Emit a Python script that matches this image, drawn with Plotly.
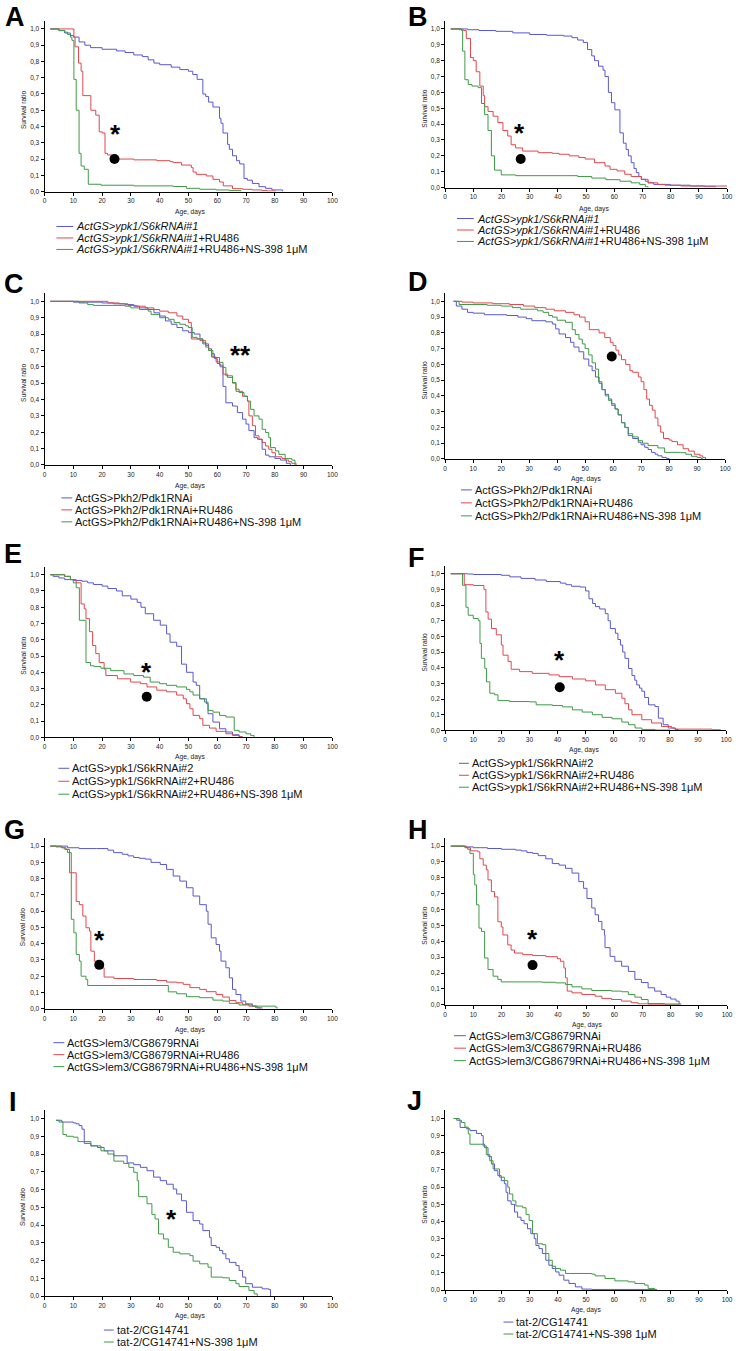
import plotly.graph_objects as go

W, H = 739, 1351

BLUE = "#5858d2"
RED = "#e2474e"
GREEN = "#3f9a47"
FONT = "Liberation Sans, Arial, sans-serif"

# ---- survival curves: age (days) and survival ratio ----
A_CTRL_DAYS = [2, 5, 7, 9, 10, 12, 14, 16, 20, 25, 28, 31, 34, 36, 38, 40, 44, 47, 50, 51.5, 53, 55, 56, 57, 58.5,
               60.8, 61.3, 62, 63.6, 64.2, 65.3, 66.7, 67.8, 69.3, 70.5, 72.2, 74.5, 76.8, 79, 82.7]
A_CTRL_SURV = [1.0, 0.99, 0.975, 0.96, 0.95, 0.92, 0.9, 0.885, 0.875, 0.865, 0.855, 0.84, 0.83, 0.81, 0.79, 0.78,
               0.765, 0.75, 0.74, 0.72, 0.69, 0.6, 0.585, 0.55, 0.52, 0.45, 0.42, 0.36, 0.29, 0.26, 0.22, 0.19,
               0.17, 0.08, 0.07, 0.05, 0.03, 0.02, 0.01, 0.0]
A_RU_DAYS = [2, 10.2, 10.6, 11.8, 12.7, 13.3, 16.1, 17.8, 19, 20.1, 21, 21.9, 23.6, 25.3, 31, 39, 43.6, 44.7, 47.6,
             51, 51.6, 52.7, 56.2, 58.5, 60.8, 62.1, 65.3, 68.8, 72.2, 75.6, 77.3, 80.2]
A_RU_SURV = [1.0, 0.95, 0.89, 0.79, 0.74, 0.59, 0.5, 0.47, 0.367, 0.36, 0.235, 0.225, 0.21, 0.2, 0.195, 0.19, 0.184,
             0.178, 0.163, 0.147, 0.12, 0.106, 0.096, 0.075, 0.059, 0.035, 0.018, 0.014, 0.01, 0.006, 0.004, 0.0]
A_NS_DAYS = [2, 5, 7, 8, 9, 9.5, 10.2, 11, 12, 12.7, 13.8, 15.2, 19.6, 31, 44.7, 49.3, 53.9, 59.6, 64.2, 68.2]
A_NS_SURV = [1.0, 0.99, 0.98, 0.965, 0.95, 0.93, 0.69, 0.5, 0.235, 0.157, 0.137, 0.045, 0.039, 0.035, 0.031, 0.02,
             0.014, 0.01, 0.006, 0.0]

B_CTRL_DAYS = [2, 8, 12, 18, 24, 30, 36, 42, 45, 47, 49, 50.5, 52, 53, 54.4, 56, 56.7, 57.9, 59, 60.2, 62, 63.2,
               64.2, 65, 66, 67, 67.8, 68.7, 69.6, 71, 72, 74, 80, 87, 92, 96]
B_CTRL_SURV = [1.0, 0.995, 0.99, 0.985, 0.975, 0.965, 0.96, 0.955, 0.945, 0.93, 0.915, 0.87, 0.83, 0.8, 0.765, 0.74,
               0.7, 0.6, 0.535, 0.49, 0.345, 0.28, 0.24, 0.2, 0.157, 0.12, 0.094, 0.07, 0.052, 0.04, 0.03, 0.02,
               0.015, 0.01, 0.005, 0.0]
B_RU_DAYS = [2, 5, 6.5, 7.5, 9, 10, 11, 12.3, 13.5, 14, 15.2, 17, 18.7, 20.5, 22.2, 23.4, 25, 27.5, 33, 38, 40.4, 44,
             47.4, 49.7, 53, 56.7, 58.5, 61, 63.7, 66, 69.6, 72, 75.4, 78, 83.6, 100]
B_RU_SURV = [1.0, 0.995, 0.99, 0.94, 0.82, 0.8, 0.73, 0.64, 0.58, 0.51, 0.48, 0.45, 0.41, 0.36, 0.325, 0.27, 0.25,
             0.23, 0.22, 0.216, 0.21, 0.2, 0.19, 0.18, 0.157, 0.136, 0.115, 0.105, 0.084, 0.07, 0.052, 0.03, 0.02,
             0.015, 0.01, 0.01]
B_NS_DAYS = [2, 5.8, 6.2, 7, 8.2, 9.5, 11.7, 12.9, 14, 15.2, 16.4, 17.5, 19.9, 25, 41.5, 47, 52, 57, 62, 66, 69, 71, 72]
B_NS_SURV = [1.0, 0.99, 0.86, 0.68, 0.65, 0.64, 0.63, 0.53, 0.46, 0.36, 0.2, 0.11, 0.08, 0.075, 0.075, 0.07, 0.06,
             0.05, 0.04, 0.03, 0.02, 0.005, 0.0]

C_CTRL_DAYS = [2, 10, 20, 24, 28, 31, 33, 36, 38, 40, 42, 44, 46, 48, 50, 52, 54, 55, 57, 58, 59, 60, 61, 62, 63,
               65.3, 67, 68.8, 70, 71, 72.8, 74, 75.6, 76.8, 78, 80, 82, 84, 85.4]
C_CTRL_SURV = [1.0, 0.995, 0.99, 0.985, 0.98, 0.97, 0.96, 0.95, 0.93, 0.91, 0.88, 0.86, 0.84, 0.82, 0.81, 0.8, 0.77,
               0.74, 0.71, 0.68, 0.65, 0.62, 0.6, 0.48, 0.38, 0.36, 0.32, 0.28, 0.25, 0.21, 0.167, 0.157, 0.096,
               0.06, 0.05, 0.04, 0.03, 0.01, 0.0]
C_RU_DAYS = [2, 22, 26, 29, 32, 35, 38, 40, 43, 46, 48, 50, 51, 54, 56, 57, 58, 59.6, 60.8, 62, 63.6, 65.3, 66.5,
             68.8, 70.5, 71, 72.2, 73.3, 74.5, 75.6, 76.8, 77.9, 79, 80.2, 82.5, 83.6, 84.8, 85.9, 87.4]
C_RU_SURV = [1.0, 0.99, 0.985, 0.975, 0.97, 0.96, 0.95, 0.94, 0.93, 0.91, 0.89, 0.87, 0.77, 0.76, 0.73, 0.7, 0.66,
             0.63, 0.61, 0.555, 0.535, 0.5, 0.45, 0.42, 0.39, 0.3, 0.24, 0.178, 0.157, 0.137, 0.116, 0.096, 0.075,
             0.05, 0.039, 0.03, 0.02, 0.01, 0.0]
C_NS_DAYS = [2, 12, 15, 17, 28, 30, 33, 36, 37, 40, 43, 45, 47, 49, 50, 51.3, 53, 55, 56, 57, 58.5, 60.8, 62, 63,
             65.3, 66.5, 67.6, 69.3, 70.5, 71.6, 72.8, 74.5, 75.6, 76.8, 77.9, 78.5, 80.2, 81.4, 83.6, 85.9, 87]
C_NS_SURV = [1.0, 0.99, 0.98, 0.975, 0.97, 0.96, 0.95, 0.94, 0.92, 0.9, 0.89, 0.87, 0.86, 0.85, 0.84, 0.78, 0.77,
             0.75, 0.72, 0.7, 0.657, 0.627, 0.596, 0.545, 0.504, 0.463, 0.443, 0.42, 0.39, 0.34, 0.3, 0.28, 0.218,
             0.198, 0.167, 0.106, 0.086, 0.065, 0.039, 0.03, 0.0]

D_CTRL_DAYS = [3, 4, 6, 8, 10, 14, 22, 26, 29, 31, 36, 38.3, 39.5, 40.7, 43, 44.8, 46, 47.8, 49.5, 51.3, 52.5, 53.7,
               55, 56, 57.2, 58.4, 59.5, 60.7, 61.8, 63, 64.2, 65.4, 67, 69, 70, 71.3, 72.5, 73.7, 75, 76, 77.5,
               79, 80]
D_CTRL_SURV = [1.0, 0.97, 0.95, 0.93, 0.925, 0.915, 0.91, 0.9, 0.89, 0.877, 0.87, 0.856, 0.825, 0.793, 0.77, 0.74,
               0.71, 0.68, 0.634, 0.59, 0.56, 0.52, 0.48, 0.44, 0.41, 0.38, 0.35, 0.317, 0.28, 0.23, 0.2, 0.148,
               0.13, 0.106, 0.09, 0.074, 0.06, 0.042, 0.03, 0.02, 0.01, 0.004, 0.0]
D_RU_DAYS = [3, 6, 10, 17, 23, 28, 32, 36, 39, 43, 46, 48, 50, 51.5, 55, 57, 59, 60, 61, 62, 63, 64.5, 66, 67, 69,
             70, 71, 72, 73, 74, 75, 76, 77, 78, 80, 81, 83, 85, 87, 89, 91, 92, 93]
D_RU_SURV = [1.0, 0.995, 0.99, 0.985, 0.98, 0.97, 0.96, 0.95, 0.94, 0.93, 0.915, 0.9, 0.87, 0.82, 0.8, 0.77, 0.74,
             0.72, 0.69, 0.66, 0.63, 0.6, 0.56, 0.55, 0.52, 0.49, 0.44, 0.38, 0.34, 0.31, 0.26, 0.21, 0.17, 0.13,
             0.12, 0.11, 0.09, 0.065, 0.05, 0.03, 0.02, 0.01, 0.0]
D_NS_DAYS = [3, 5, 15, 20, 24, 27, 33, 35, 37, 38.3, 40, 43, 45.4, 46.5, 47.8, 49, 50, 51.3, 52.5, 53.7, 54.8, 56,
             57.2, 58.4, 59.5, 60.7, 61.8, 63, 64.2, 65.4, 67, 69, 70.5, 72.5, 76, 78.4, 84, 86, 88, 90, 91.4, 92]
D_NS_SURV = [1.0, 0.98, 0.975, 0.97, 0.96, 0.95, 0.94, 0.93, 0.91, 0.9, 0.88, 0.867, 0.82, 0.79, 0.76, 0.73, 0.7,
             0.66, 0.61, 0.57, 0.49, 0.44, 0.4, 0.37, 0.34, 0.317, 0.28, 0.23, 0.2, 0.16, 0.14, 0.116, 0.1, 0.085,
             0.07, 0.042, 0.04, 0.03, 0.017, 0.01, 0.004, 0.0]

E_CTRL_DAYS = [2, 3, 5, 7, 10, 13, 15, 17, 20, 22, 25, 27, 30, 32.2, 33.5, 35, 37.9, 40.2, 42.4, 43.6, 45.9, 47.6,
               49.3, 51.6, 52.7, 53.9, 56.2, 56.8, 58.5, 60.8, 63, 65.3, 67.6, 68.5]
E_CTRL_SURV = [1.0, 0.99, 0.98, 0.97, 0.965, 0.96, 0.95, 0.94, 0.93, 0.915, 0.9, 0.87, 0.85, 0.83, 0.8, 0.76, 0.72,
               0.69, 0.636, 0.585, 0.56, 0.45, 0.4, 0.34, 0.32, 0.237, 0.207, 0.145, 0.094, 0.053, 0.033, 0.016,
               0.004, 0.0]
E_RU_DAYS = [2, 7, 9, 11, 12.7, 13.8, 14.4, 15.6, 16.7, 17.8, 19, 20.7, 21.3, 25.3, 29.9, 33.3, 35.6, 39, 42.4, 45.9,
             48.2, 49.3, 50.5, 51.6, 53.9, 55, 57.3, 59.6, 63, 65.3, 67.6, 68.8]
E_RU_SURV = [1.0, 0.99, 0.97, 0.95, 0.82, 0.79, 0.73, 0.65, 0.565, 0.515, 0.46, 0.42, 0.38, 0.36, 0.34, 0.33, 0.31,
             0.29, 0.28, 0.26, 0.237, 0.207, 0.176, 0.135, 0.115, 0.074, 0.057, 0.037, 0.022, 0.012, 0.004, 0.0]
E_NS_DAYS = [2, 7, 9, 10, 11, 12.1, 14.4, 16, 17.3, 19.6, 23, 27.6, 31, 34.4, 36.7, 40, 42.4, 45.9, 49.3, 50.5, 51.6,
             53.9, 55.6, 56.8, 58.5, 60.8, 63, 65.9, 67.6, 70, 71.6, 72.8]
E_NS_SURV = [1.0, 0.99, 0.97, 0.95, 0.92, 0.72, 0.46, 0.44, 0.435, 0.425, 0.41, 0.39, 0.38, 0.37, 0.34, 0.33, 0.32,
             0.31, 0.295, 0.28, 0.26, 0.237, 0.217, 0.166, 0.155, 0.135, 0.125, 0.043, 0.033, 0.022, 0.012, 0.0]

F_CTRL_DAYS = [2, 8, 10, 20, 23, 27, 32, 36, 41, 43, 45, 48, 50, 51.2, 52.5, 53.5, 55, 57, 58, 58.8, 60.6, 61.5,
               62.4, 63.2, 64, 65.3, 66.5, 67.5, 68.2, 69.2, 70, 71, 72.4, 74.7, 75.9, 77.6, 79.4, 81.8, 83]
F_CTRL_SURV = [1.0, 0.998, 0.995, 0.99, 0.98, 0.97, 0.96, 0.95, 0.94, 0.93, 0.92, 0.915, 0.89, 0.84, 0.81, 0.79,
               0.775, 0.745, 0.7, 0.65, 0.62, 0.58, 0.545, 0.5, 0.46, 0.395, 0.35, 0.32, 0.29, 0.27, 0.25, 0.21,
               0.163, 0.152, 0.078, 0.036, 0.015, 0.006, 0.0]
F_RU_DAYS = [2, 6.8, 10, 13.8, 14.5, 15.3, 16.5, 18.2, 20, 20.6, 22.4, 23.5, 26.5, 31, 37, 40.6, 45.3, 50, 53.5, 57,
             60.6, 62.9, 64, 65.3, 66.5, 70, 73.5, 77, 80.6, 82, 93.5, 95, 98]
F_RU_SURV = [1.0, 0.93, 0.925, 0.9, 0.756, 0.71, 0.65, 0.61, 0.545, 0.48, 0.44, 0.39, 0.375, 0.364, 0.354, 0.343,
             0.328, 0.316, 0.29, 0.26, 0.237, 0.205, 0.17, 0.131, 0.1, 0.068, 0.047, 0.025, 0.015, 0.008, 0.008,
             0.004, 0.0]
F_NS_DAYS = [2, 6.2, 7.4, 8.2, 10, 11.8, 12.4, 12.9, 14.1, 14.7, 15.9, 17.6, 18.8, 22.9, 30, 32.4, 38.2, 41.8, 45.3,
             48.8, 52.4, 55.9, 59.4, 62.9, 65.3, 67.6, 70, 74.7, 80]
F_NS_SURV = [1.0, 0.926, 0.786, 0.735, 0.714, 0.7, 0.555, 0.46, 0.396, 0.31, 0.237, 0.227, 0.19, 0.184, 0.182,
             0.163, 0.159, 0.15, 0.131, 0.117, 0.1, 0.083, 0.074, 0.053, 0.036, 0.015, 0.006, 0.002, 0.0]

G_CTRL_DAYS = [2, 8, 12, 18, 22, 24, 27, 29, 31, 33, 35, 37, 40.2, 42.4, 44.7, 47, 49.3, 51.6, 53.9, 56.2, 56.8,
               57.9, 59.6, 60.8, 61.3, 63, 64.2, 65.3, 66.5, 68.2, 69.9, 72.2, 73.9, 75]
G_CTRL_SURV = [1.0, 0.99, 0.985, 0.985, 0.975, 0.96, 0.95, 0.94, 0.93, 0.925, 0.92, 0.9, 0.887, 0.857, 0.816,
               0.785, 0.744, 0.693, 0.64, 0.6, 0.52, 0.436, 0.395, 0.354, 0.293, 0.252, 0.19, 0.119, 0.088, 0.047,
               0.03, 0.016, 0.004, 0.0]
G_RU_DAYS = [2, 6, 7.5, 8.7, 11, 12.1, 13.3, 14.4, 15.6, 16.1, 17.3, 18.4, 19.6, 20.7, 24.1, 31, 39, 42.4, 45.9,
             48.2, 50.5, 53.9, 56.2, 59.6, 61.9, 64.2, 66.5, 68.8, 71, 73.3, 75.6]
G_RU_SURV = [1.0, 0.99, 0.98, 0.836, 0.66, 0.64, 0.57, 0.498, 0.477, 0.354, 0.293, 0.262, 0.252, 0.195, 0.186, 0.18,
             0.174, 0.164, 0.16, 0.15, 0.13, 0.119, 0.105, 0.088, 0.072, 0.051, 0.037, 0.027, 0.016, 0.006, 0.0]
G_NS_DAYS = [2, 4, 6, 7, 8, 9.3, 10.2, 11, 12.1, 12.7, 14.4, 15, 43, 45.9, 49.3, 53.9, 58.5, 61.9, 64.2, 67.6, 72.2,
             80.2, 80.8]
G_NS_SURV = [1.0, 0.995, 0.99, 0.98, 0.96, 0.55, 0.467, 0.334, 0.293, 0.2, 0.18, 0.143, 0.104, 0.092, 0.074, 0.068,
             0.053, 0.047, 0.033, 0.023, 0.016, 0.01, 0.0]

H_CTRL_DAYS = [2, 7, 10, 15, 20, 25, 27, 29, 31, 33, 35.7, 38, 40.4, 42.7, 45, 47.4, 49.1, 50.3, 52, 53.2, 54.4,
               55.6, 56.5, 56.7, 58.5, 60.2, 62.6, 65, 67.3, 69.6, 72, 74.3, 76.6, 78.4, 80, 81.9, 83, 83.6]
H_CTRL_SURV = [1.0, 0.995, 0.99, 0.985, 0.98, 0.975, 0.97, 0.96, 0.954, 0.94, 0.92, 0.89, 0.88, 0.86, 0.83, 0.776,
               0.734, 0.67, 0.61, 0.567, 0.525, 0.473, 0.44, 0.36, 0.305, 0.274, 0.243, 0.21, 0.16, 0.14, 0.107,
               0.086, 0.065, 0.048, 0.036, 0.023, 0.006, 0.0]
H_RU_DAYS = [2, 7.6, 9, 11.7, 12.3, 13.5, 14.6, 15.2, 16.4, 17.5, 18.7, 19.9, 20.5, 22.2, 23.4, 24.6, 27.5, 31, 35.7,
             39.8, 40.9, 42.1, 42.7, 43.3, 45, 48.5, 53.2, 55.6, 59, 62.6, 66, 68.4, 72, 83]
H_RU_SURV = [1.0, 0.99, 0.97, 0.964, 0.92, 0.88, 0.85, 0.787, 0.713, 0.68, 0.523, 0.49, 0.44, 0.377, 0.345, 0.326,
             0.316, 0.31, 0.303, 0.29, 0.274, 0.232, 0.17, 0.086, 0.075, 0.065, 0.054, 0.04, 0.033, 0.023, 0.013,
             0.006, 0.003, 0.0]
H_NS_DAYS = [2, 7, 8, 8.8, 10, 10.5, 11.1, 12, 12.9, 14, 15.2, 17, 18.7, 19.9, 34.5, 39.2, 42.7, 45, 48.5, 52, 59,
             62.6, 65, 67.3, 69.6, 72, 77.8, 83]
H_NS_SURV = [1.0, 0.99, 0.98, 0.954, 0.82, 0.756, 0.63, 0.483, 0.462, 0.295, 0.222, 0.18, 0.16, 0.144, 0.142, 0.138,
             0.128, 0.113, 0.1, 0.09, 0.086, 0.082, 0.065, 0.048, 0.033, 0.008, 0.004, 0.0]

I_CTRL_DAYS = [4, 6, 10, 11, 12, 13, 13.8, 16.1, 18.4, 20.7, 24.1, 28.7, 31, 33.3, 35.6, 37.9, 40.2, 42.4, 44.7,
               45.9, 47.6, 49.3, 51.6, 53.9, 55, 57.3, 57.9, 59.6, 60.8, 61.9, 63, 64.2, 66.5, 67.6, 68.8, 69.9,
               72.2, 75.6, 77.9, 78.5]
I_CTRL_SURV = [0.99, 0.98, 0.975, 0.97, 0.96, 0.94, 0.86, 0.846, 0.837, 0.818, 0.79, 0.75, 0.74, 0.725, 0.706, 0.67,
               0.65, 0.63, 0.603, 0.575, 0.537, 0.472, 0.425, 0.406, 0.369, 0.331, 0.285, 0.275, 0.257, 0.238, 0.21,
               0.19, 0.172, 0.144, 0.107, 0.07, 0.05, 0.041, 0.037, 0.0]
I_NS_DAYS = [4, 5, 6.4, 7.6, 10, 11.6, 16.1, 19.6, 22, 24.1, 27.5, 29.3, 31, 32.2, 32.7, 35.6, 37.3, 38.4, 39.6, 41.3,
             43, 44.7, 47, 50.5, 51.6, 53.9, 56.8, 57.9, 61.9, 64.2, 66.5, 67.6, 71, 72.8, 73.9]
I_NS_SURV = [0.99, 0.98, 0.91, 0.9, 0.895, 0.87, 0.846, 0.818, 0.8, 0.76, 0.747, 0.725, 0.697, 0.65, 0.56, 0.52,
             0.46, 0.434, 0.35, 0.322, 0.275, 0.247, 0.238, 0.228, 0.197, 0.182, 0.163, 0.107, 0.103, 0.088, 0.07,
             0.054, 0.032, 0.013, 0.0]

J_CTRL_DAYS = [3, 4.1, 5.3, 7.6, 8.8, 11.1, 12.9, 13.5, 14, 15.2, 16.4, 17.5, 18.7, 19.9, 21, 21.6, 22.2, 23.4, 24.6,
               25.7, 26.9, 28, 29.2, 30.4, 31.6, 32.2, 33.3, 34.5, 35.7, 36.8, 38, 39.2, 40.4, 42.1, 43.9, 46.2,
               48.5, 52, 74.3, 75]
J_CTRL_SURV = [1.0, 0.99, 0.948, 0.94, 0.93, 0.913, 0.9, 0.85, 0.83, 0.78, 0.735, 0.696, 0.667, 0.638, 0.62, 0.57,
               0.52, 0.5, 0.455, 0.425, 0.406, 0.387, 0.358, 0.329, 0.3, 0.26, 0.242, 0.213, 0.174, 0.145, 0.126,
               0.106, 0.087, 0.058, 0.039, 0.019, 0.006, 0.004, 0.004, 0.0]
J_NS_DAYS = [3, 5, 5.8, 7, 8.2, 8.8, 13.5, 14.6, 15.8, 17, 19.3, 21, 22.2, 22.8, 24, 25.1, 27.5, 28.7, 29.8, 31, 32.7,
             34.5, 35.7, 36.8, 38, 39.2, 40.9, 42.7, 52, 53.2, 56.7, 60.2, 64.9, 67.3, 70.8, 72, 74.3]
J_NS_SURV = [1.0, 0.99, 0.977, 0.95, 0.91, 0.85, 0.84, 0.79, 0.754, 0.706, 0.658, 0.638, 0.6, 0.56, 0.52, 0.49, 0.48,
             0.44, 0.406, 0.329, 0.27, 0.265, 0.213, 0.174, 0.139, 0.126, 0.116, 0.097, 0.093, 0.083, 0.068, 0.054,
             0.048, 0.039, 0.029, 0.01, 0.0]

# ---- legend labels ----
LEG_S6K1 = ["<i>ActGS>ypk1/S6kRNAi#1</i>", "<i>ActGS>ypk1/S6kRNAi#1</i>+RU486",
            "<i>ActGS>ypk1/S6kRNAi#1</i>+RU486+NS-398 1μM"]
LEG_PDK1 = ["ActGS>Pkh2/Pdk1RNAi", "ActGS>Pkh2/Pdk1RNAi+RU486", "ActGS>Pkh2/Pdk1RNAi+RU486+NS-398 1μM"]
LEG_S6K2 = ["ActGS>ypk1/S6kRNAi#2", "ActGS>ypk1/S6kRNAi#2+RU486", "ActGS>ypk1/S6kRNAi#2+RU486+NS-398 1μM"]
LEG_LEM3 = ["ActGS>lem3/CG8679RNAi", "ActGS>lem3/CG8679RNAi+RU486", "ActGS>lem3/CG8679RNAi+RU486+NS-398 1μM"]
LEG_TAT2 = ["tat-2/CG14741", "tat-2/CG14741+NS-398 1μM"]

# ---- significance marks (age, survival) ----
STAR_POS = {"A": (24.5, 0.39), "B": (26.5, 0.38), "C": (68, 0.71), "E": (35.5, 0.44), "F": (40.8, 0.49),
            "G": (19, 0.46), "H": (31, 0.45), "I": (44, 0.47)}
STAR_TEXT = {"C": "**"}
DOT_POS = {"A": (24.3, 0.2), "B": (26.8, 0.18), "D": (59.5, 0.65), "E": (35.5, 0.25), "F": (40.8, 0.275),
           "G": (19, 0.27), "H": (31, 0.25)}

Y_TICKS = [i / 10 for i in range(11)]
Y_LABELS = ["%d,%d" % (i // 10, i % 10) for i in range(0, 11)]


def fx(px):
    return px / W


def fy(py):
    return 1 - py / H


# panel geometry in page pixels: plot box (left, right, y of 1.0, y of 0.0),
# letter centre, legend (line x0, line x1, first row y, row step), "Age, days" centre, y-title x
panels = [
    dict(k="A", curves=[(A_CTRL_DAYS, A_CTRL_SURV, BLUE), (A_RU_DAYS, A_RU_SURV, RED), (A_NS_DAYS, A_NS_SURV, GREEN)],
         leg=LEG_S6K1, box=(43, 334, 29, 192), let=(13, 17), lg=(55, 72, 227, 11.5), xt=(190, 212), yt=21),
    dict(k="B", curves=[(B_CTRL_DAYS, B_CTRL_SURV, BLUE), (B_RU_DAYS, B_RU_SURV, RED), (B_NS_DAYS, B_NS_SURV, GREEN)],
         leg=LEG_S6K1, box=(448, 733, 29, 188), let=(421, 17), lg=(460, 477, 219, 11.5), xt=(598, 209), yt=427),
    dict(k="C", curves=[(C_CTRL_DAYS, C_CTRL_SURV, BLUE), (C_RU_DAYS, C_RU_SURV, RED), (C_NS_DAYS, C_NS_SURV, GREEN)],
         leg=LEG_PDK1, box=(43, 334, 302, 466), let=(12, 285), lg=(60, 71, 499, 12), xt=(190, 487), yt=21),
    dict(k="D", curves=[(D_CTRL_DAYS, D_CTRL_SURV, BLUE), (D_RU_DAYS, D_RU_SURV, RED), (D_NS_DAYS, D_NS_SURV, GREEN)],
         leg=LEG_PDK1, box=(448, 731, 302, 460), let=(421, 283), lg=(464, 475, 491, 13), xt=(590, 480), yt=427),
    dict(k="E", curves=[(E_CTRL_DAYS, E_CTRL_SURV, BLUE), (E_RU_DAYS, E_RU_SURV, RED), (E_NS_DAYS, E_NS_SURV, GREEN)],
         leg=LEG_S6K2, box=(43, 334, 576, 739), let=(11, 555), lg=(57, 68, 770, 13), xt=(190, 759), yt=21),
    dict(k="F", curves=[(F_CTRL_DAYS, F_CTRL_SURV, BLUE), (F_RU_DAYS, F_RU_SURV, RED), (F_NS_DAYS, F_NS_SURV, GREEN)],
         leg=LEG_S6K2, box=(448, 732, 575, 732), let=(419, 559), lg=(462, 472, 765, 12), xt=(588, 752), yt=427),
    dict(k="G", curves=[(G_CTRL_DAYS, G_CTRL_SURV, BLUE), (G_RU_DAYS, G_RU_SURV, RED), (G_NS_DAYS, G_NS_SURV, GREEN)],
         leg=LEG_LEM3, box=(43, 334, 848, 1011), let=(13, 832), lg=(52, 63, 1045, 12), xt=(190, 1032), yt=21),
    dict(k="H", curves=[(H_CTRL_DAYS, H_CTRL_SURV, BLUE), (H_RU_DAYS, H_RU_SURV, RED), (H_NS_DAYS, H_NS_SURV, GREEN)],
         leg=LEG_LEM3, box=(448, 733, 848, 1007), let=(421, 832), lg=(457, 469, 1038, 12.5), xt=(591, 1027), yt=427),
    dict(k="I", curves=[(I_CTRL_DAYS, I_CTRL_SURV, BLUE), (I_NS_DAYS, I_NS_SURV, GREEN)],
         leg=LEG_TAT2, box=(43, 334, 1121, 1299), let=(11, 1104), lg=(103, 113, 1333, 12), xt=(190, 1319), yt=21),
    dict(k="J", curves=[(J_CTRL_DAYS, J_CTRL_SURV, BLUE), (J_NS_DAYS, J_NS_SURV, GREEN)],
         leg=LEG_TAT2, box=(448, 733, 1121, 1293), let=(417, 1103), lg=(507, 517, 1325, 12), xt=(590, 1313), yt=427),
]

YMAX = 1.05
fig = go.Figure()
layout = {}
annotations = []
shapes = []

for n, p in enumerate(panels, start=1):
    sfx = "" if n == 1 else str(n)
    xa, ya = "x" + sfx, "y" + sfx
    left, right, y1, y0 = p["box"]
    top = y0 - YMAX * (y0 - y1)

    layout["xaxis" + sfx] = dict(
        domain=[fx(left), fx(right)], anchor=ya, range=[0, 100], tickvals=list(range(0, 101, 10)),
        ticks="outside", ticklen=3, tickwidth=1, tickcolor="#000", showline=True, linecolor="#000",
        linewidth=1, showgrid=False, zeroline=False, tickfont=dict(size=6.5, family=FONT, color="#222"),
        fixedrange=True,
    )
    layout["yaxis" + sfx] = dict(
        domain=[fy(y0), fy(top)], anchor=xa, range=[0, YMAX], tickvals=Y_TICKS, ticktext=Y_LABELS,
        ticks="outside", ticklen=3, tickwidth=1, tickcolor="#000", showline=True, linecolor="#000",
        linewidth=1, showgrid=False, zeroline=False, tickfont=dict(size=6.5, family=FONT, color="#222"),
        fixedrange=True,
    )

    for days, surv, col in p["curves"]:
        fig.add_trace(go.Scatter(x=days, y=surv, xaxis=xa, yaxis=ya, mode="lines",
                                 line=dict(color=col, width=1, shape="hv"),
                                 showlegend=False, hoverinfo="skip"))

    k = p["k"]
    if k in DOT_POS:
        fig.add_trace(go.Scatter(x=[DOT_POS[k][0]], y=[DOT_POS[k][1]], xaxis=xa, yaxis=ya, mode="markers",
                                 marker=dict(size=10, color="#000"), showlegend=False, hoverinfo="skip"))
    if k in STAR_POS:
        annotations.append(dict(x=STAR_POS[k][0], y=STAR_POS[k][1], xref=xa, yref=ya,
                                text="<b>%s</b>" % STAR_TEXT.get(k, "*"), showarrow=False,
                                font=dict(size=26, family=FONT, color="#000"), yshift=-6))

    # panel letter
    annotations.append(dict(x=fx(p["let"][0]), y=fy(p["let"][1]), xref="paper", yref="paper",
                            text="<b>%s</b>" % k, showarrow=False, xanchor="center", yanchor="middle",
                            font=dict(size=27, family=FONT, color="#000")))
    # axis titles
    annotations.append(dict(x=fx(p["xt"][0]), y=fy(p["xt"][1]), xref="paper", yref="paper",
                            text="Age, days", showarrow=False, xanchor="center", yanchor="middle",
                            font=dict(size=6.7, family=FONT, color="#222")))
    annotations.append(dict(x=fx(p["yt"]), y=fy((y0 + y1) / 2), xref="paper", yref="paper",
                            text="Survival ratio", showarrow=False, textangle=-90, xanchor="center",
                            yanchor="middle", font=dict(size=6.6, family=FONT, color="#222")))

    # legend drawn as short line samples plus labels
    lx0, lx1, ly, step = p["lg"]
    for i, (label, (_, _, col)) in enumerate(zip(p["leg"], p["curves"])):
        yy = ly + i * step
        shapes.append(dict(type="line", xref="paper", yref="paper", x0=fx(lx0), x1=fx(lx1),
                           y0=fy(yy), y1=fy(yy), line=dict(color=col, width=1)))
        annotations.append(dict(x=fx(lx1 + 1), y=fy(yy), xref="paper", yref="paper", text=label,
                                showarrow=False, xanchor="left", yanchor="middle",
                                font=dict(size=11, family=FONT, color="#111")))

fig.update_layout(
    width=W, height=H, margin=dict(l=0, r=0, t=0, b=0),
    paper_bgcolor="white", plot_bgcolor="white",
    annotations=annotations, shapes=shapes, **layout,
)

# the page body has a default 8px margin; drop it so the figure fills the window exactly
fig.write_html("out.html", config={"displayModeBar": False},
               post_script="document.body.style.margin='0';document.body.style.overflow='hidden';")
